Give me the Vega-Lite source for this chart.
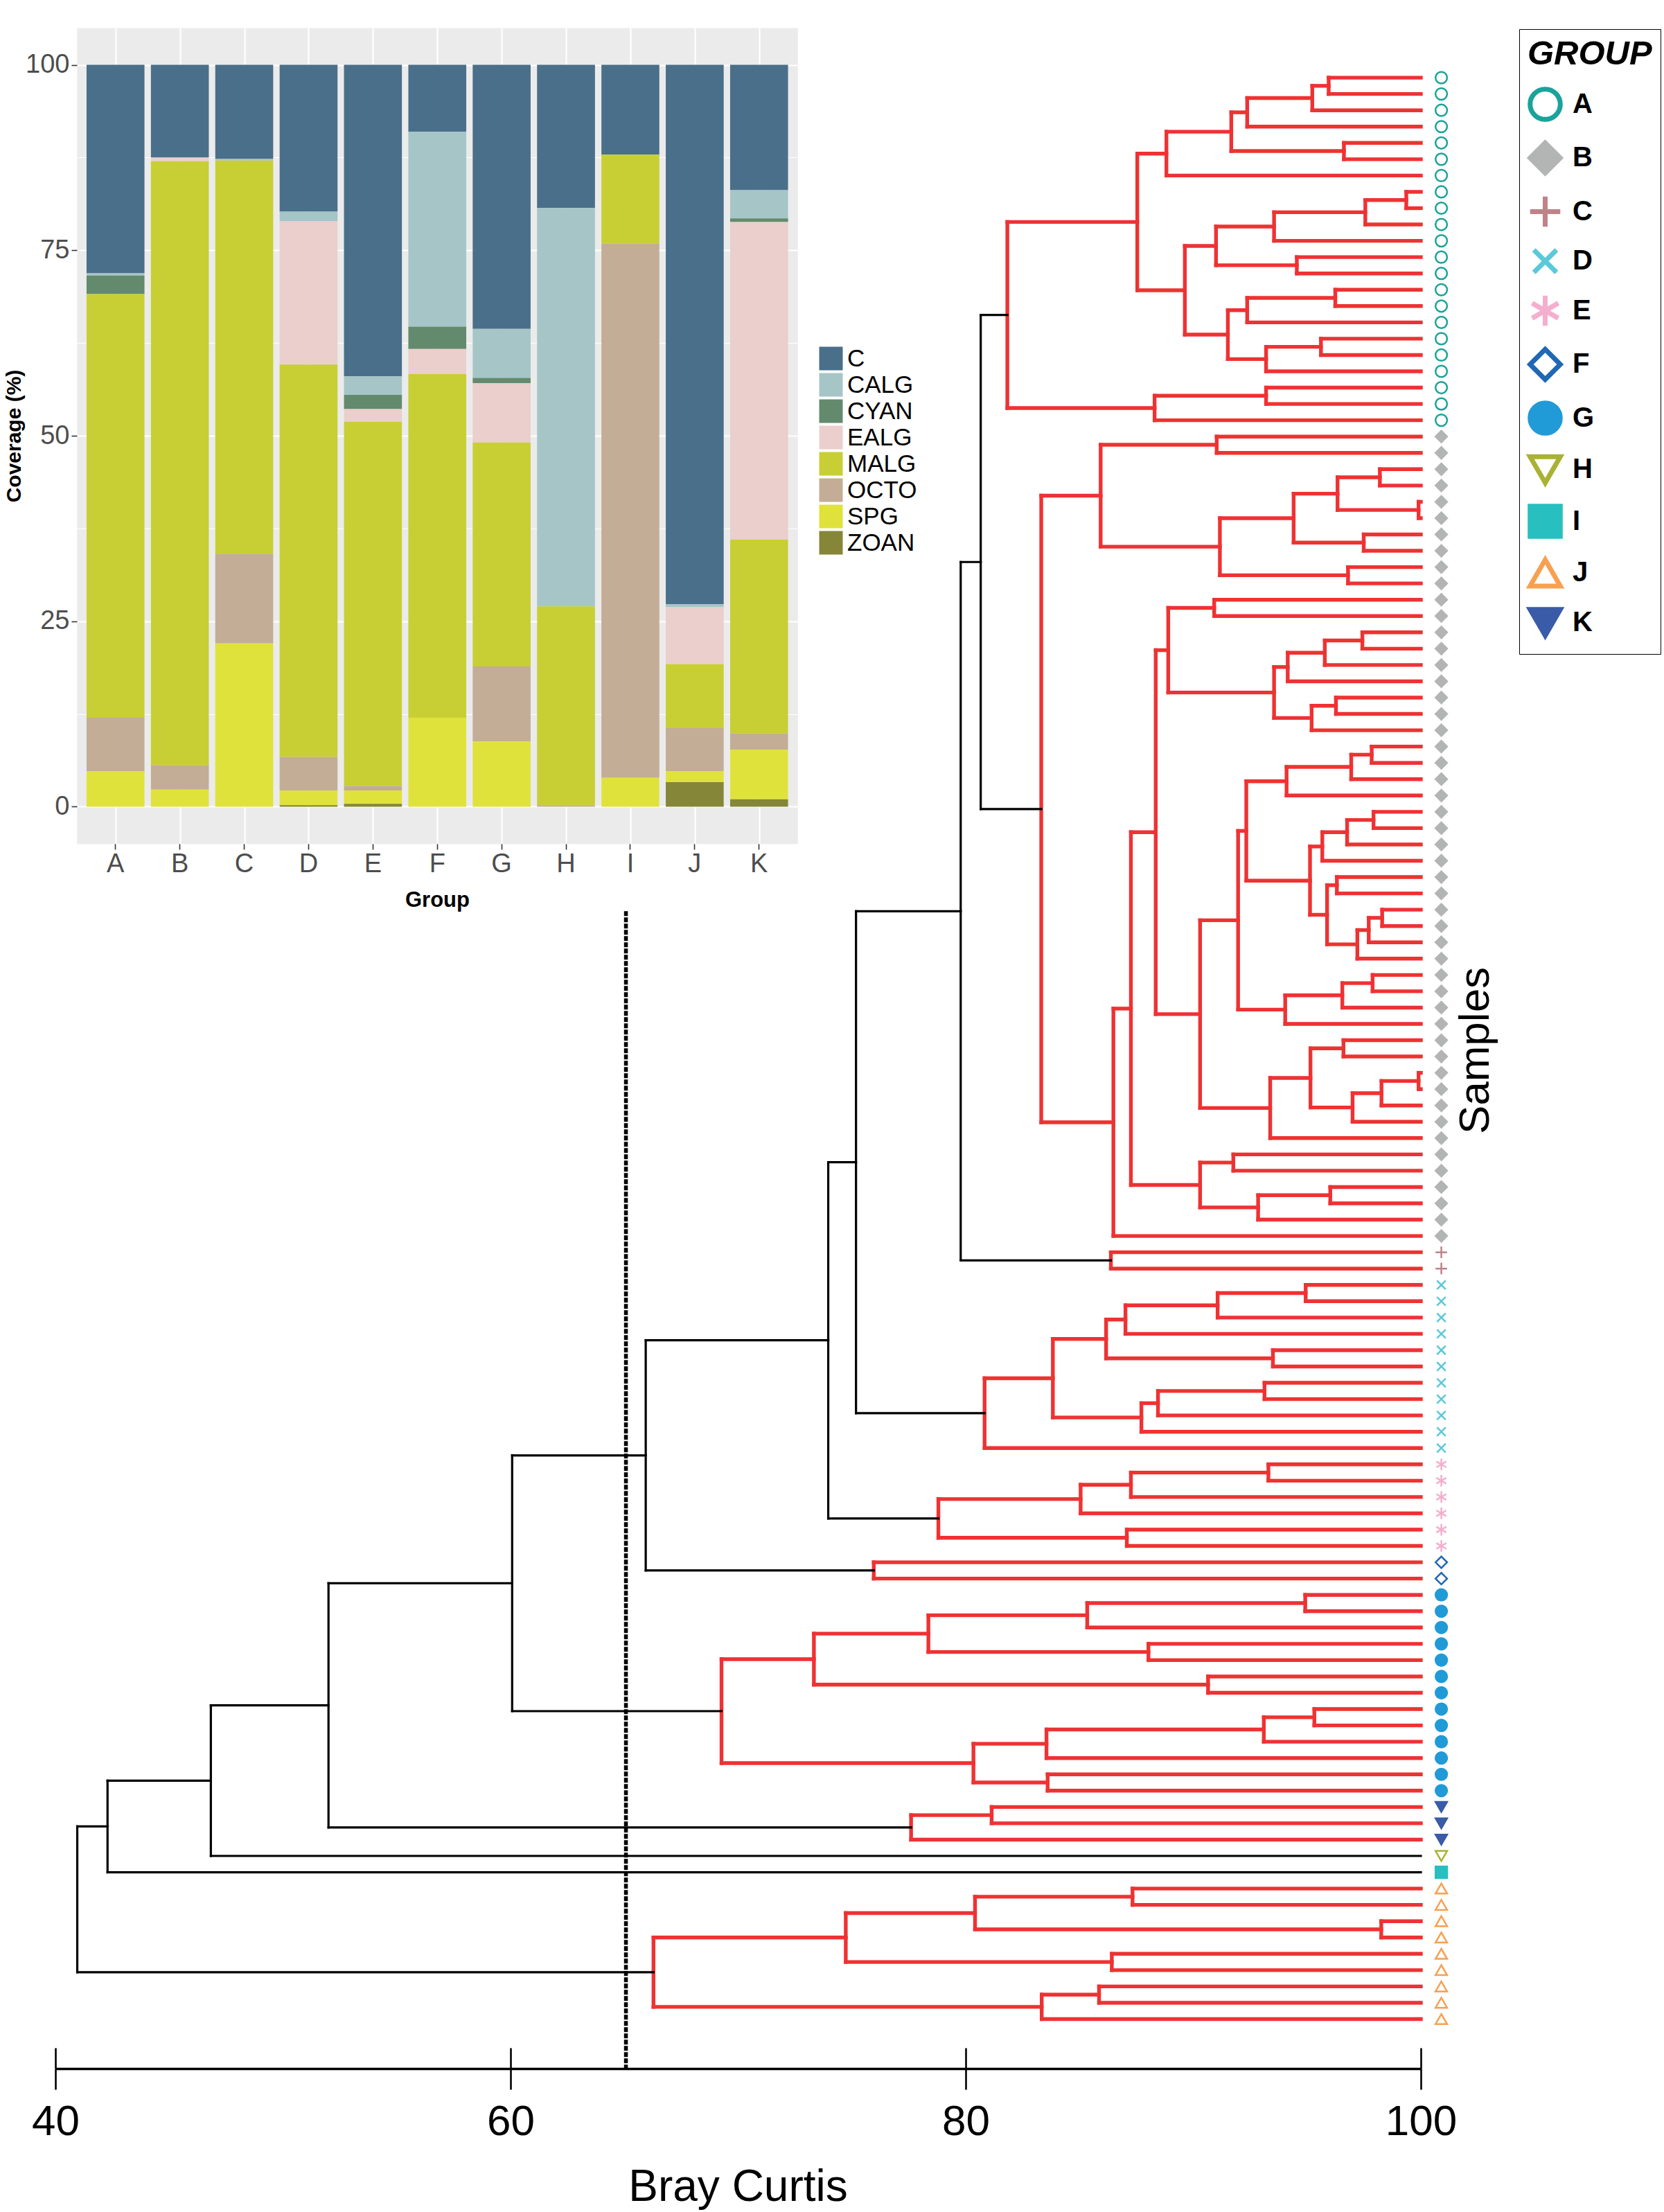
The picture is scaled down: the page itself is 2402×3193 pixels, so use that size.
{
"$schema": "https://vega.github.io/schema/vega-lite/v6.json",
"width": 2402, "height": 3193,
"autosize": {"type": "none"}, "padding": 0, "background": "white",
"config": {"view": {"stroke": null}, "axis": {"grid": false}, "font": "Liberation Sans"},
"datasets": {
"bars": [
{"g":"A","cat":"C","v":28.1},{"g":"A","cat":"CALG","v":0.3},{"g":"A","cat":"CYAN","v":2.5},{"g":"A","cat":"MALG","v":57.1},{"g":"A","cat":"OCTO","v":7.2},{"g":"A","cat":"SPG","v":4.8},
{"g":"B","cat":"C","v":12.5},{"g":"B","cat":"EALG","v":0.5},{"g":"B","cat":"MALG","v":81.4},{"g":"B","cat":"OCTO","v":3.3},{"g":"B","cat":"SPG","v":2.3},
{"g":"C","cat":"C","v":12.7},{"g":"C","cat":"CALG","v":0.2},{"g":"C","cat":"MALG","v":53.0},{"g":"C","cat":"OCTO","v":12.1},{"g":"C","cat":"SPG","v":22.0},
{"g":"D","cat":"C","v":19.8},{"g":"D","cat":"CALG","v":1.3},{"g":"D","cat":"EALG","v":19.3},{"g":"D","cat":"MALG","v":52.9},{"g":"D","cat":"OCTO","v":4.5},{"g":"D","cat":"SPG","v":2.0},{"g":"D","cat":"ZOAN","v":0.2},
{"g":"E","cat":"C","v":42.0},{"g":"E","cat":"CALG","v":2.5},{"g":"E","cat":"CYAN","v":1.9},{"g":"E","cat":"EALG","v":1.7},{"g":"E","cat":"MALG","v":49.1},{"g":"E","cat":"OCTO","v":0.6},{"g":"E","cat":"SPG","v":1.8},{"g":"E","cat":"ZOAN","v":0.4},
{"g":"F","cat":"C","v":9.0},{"g":"F","cat":"CALG","v":26.3},{"g":"F","cat":"CYAN","v":3.0},{"g":"F","cat":"EALG","v":3.4},{"g":"F","cat":"MALG","v":46.3},{"g":"F","cat":"SPG","v":12.0},
{"g":"G","cat":"C","v":35.6},{"g":"G","cat":"CALG","v":6.6},{"g":"G","cat":"CYAN","v":0.7},{"g":"G","cat":"EALG","v":8.0},{"g":"G","cat":"MALG","v":30.2},{"g":"G","cat":"OCTO","v":10.1},{"g":"G","cat":"SPG","v":8.8},
{"g":"H","cat":"C","v":19.3},{"g":"H","cat":"CALG","v":53.7},{"g":"H","cat":"MALG","v":26.8},{"g":"H","cat":"OCTO","v":0.2},
{"g":"I","cat":"C","v":12.1},{"g":"I","cat":"MALG","v":12.0},{"g":"I","cat":"OCTO","v":72.0},{"g":"I","cat":"SPG","v":3.9},
{"g":"J","cat":"C","v":72.7},{"g":"J","cat":"CALG","v":0.4},{"g":"J","cat":"EALG","v":7.7},{"g":"J","cat":"MALG","v":8.6},{"g":"J","cat":"OCTO","v":5.8},{"g":"J","cat":"SPG","v":1.5},{"g":"J","cat":"ZOAN","v":3.3},
{"g":"K","cat":"C","v":16.9},{"g":"K","cat":"CALG","v":3.8},{"g":"K","cat":"CYAN","v":0.5},{"g":"K","cat":"EALG","v":42.8},{"g":"K","cat":"MALG","v":26.1},{"g":"K","cat":"OCTO","v":2.2},{"g":"K","cat":"SPG","v":6.7},{"g":"K","cat":"ZOAN","v":1.0}
],
"nodes": [
{"h":95.95,"a":100,"ya":0,"b":100,"yb":1},
{"h":95.23,"a":95.95,"ya":0.5,"b":100,"yb":2},
{"h":92.37,"a":95.23,"ya":1.25,"b":100,"yb":3},
{"h":96.62,"a":100,"ya":4,"b":100,"yb":5},
{"h":91.67,"a":92.37,"ya":2.125,"b":96.62,"yb":4.5},
{"h":88.82,"a":91.67,"ya":3.3125,"b":100,"yb":6},
{"h":99.36,"a":100,"ya":7,"b":100,"yb":8},
{"h":97.56,"a":99.36,"ya":7.5,"b":100,"yb":9},
{"h":93.55,"a":97.56,"ya":8.25,"b":100,"yb":10},
{"h":94.55,"a":100,"ya":11,"b":100,"yb":12},
{"h":91.0,"a":93.55,"ya":9.125,"b":94.55,"yb":11.5},
{"h":96.24,"a":100,"ya":13,"b":100,"yb":14},
{"h":92.37,"a":96.24,"ya":13.5,"b":100,"yb":15},
{"h":95.61,"a":100,"ya":16,"b":100,"yb":17},
{"h":93.2,"a":95.61,"ya":16.5,"b":100,"yb":18},
{"h":91.52,"a":92.37,"ya":14.25,"b":93.2,"yb":17.25},
{"h":89.63,"a":91.0,"ya":10.3125,"b":91.52,"yb":15.75},
{"h":87.54,"a":88.82,"ya":4.6563,"b":89.63,"yb":13.0313},
{"h":93.2,"a":100,"ya":19,"b":100,"yb":20},
{"h":88.3,"a":93.2,"ya":19.5,"b":100,"yb":21},
{"h":81.83,"a":87.54,"ya":8.8438,"b":88.3,"yb":20.25},
{"h":91.03,"a":100,"ya":22,"b":100,"yb":23},
{"h":98.2,"a":100,"ya":24,"b":100,"yb":25},
{"h":99.9,"a":100,"ya":26,"b":100,"yb":27},
{"h":96.34,"a":98.2,"ya":24.5,"b":99.9,"yb":26.5},
{"h":97.49,"a":100,"ya":28,"b":100,"yb":29},
{"h":94.41,"a":96.34,"ya":25.5,"b":97.49,"yb":28.5},
{"h":96.8,"a":100,"ya":30,"b":100,"yb":31},
{"h":91.17,"a":94.41,"ya":27,"b":96.8,"yb":30.5},
{"h":85.93,"a":91.03,"ya":22.5,"b":91.17,"yb":28.75},
{"h":90.92,"a":100,"ya":32,"b":100,"yb":33},
{"h":97.43,"a":100,"ya":34,"b":100,"yb":35},
{"h":95.78,"a":97.43,"ya":34.5,"b":100,"yb":36},
{"h":94.15,"a":95.78,"ya":35.25,"b":100,"yb":37},
{"h":96.27,"a":100,"ya":38,"b":100,"yb":39},
{"h":95.2,"a":96.27,"ya":38.5,"b":100,"yb":40},
{"h":93.55,"a":94.15,"ya":36.125,"b":95.2,"yb":39.25},
{"h":88.9,"a":90.92,"ya":32.5,"b":93.55,"yb":37.6875},
{"h":97.84,"a":100,"ya":41,"b":100,"yb":42},
{"h":96.94,"a":97.84,"ya":41.5,"b":100,"yb":43},
{"h":94.1,"a":96.94,"ya":42.25,"b":100,"yb":44},
{"h":97.92,"a":100,"ya":45,"b":100,"yb":46},
{"h":96.76,"a":97.92,"ya":45.5,"b":100,"yb":47},
{"h":95.67,"a":96.76,"ya":46.25,"b":100,"yb":48},
{"h":96.31,"a":100,"ya":49,"b":100,"yb":50},
{"h":98.3,"a":100,"ya":51,"b":100,"yb":52},
{"h":97.71,"a":98.3,"ya":51.5,"b":100,"yb":53},
{"h":97.21,"a":97.71,"ya":52.25,"b":100,"yb":54},
{"h":95.88,"a":96.31,"ya":49.5,"b":97.21,"yb":53.125},
{"h":95.13,"a":95.67,"ya":47.125,"b":95.88,"yb":51.3125},
{"h":92.33,"a":94.1,"ya":43.125,"b":95.13,"yb":49.2188},
{"h":97.88,"a":100,"ya":55,"b":100,"yb":56},
{"h":96.55,"a":97.88,"ya":55.5,"b":100,"yb":57},
{"h":94.04,"a":96.55,"ya":56.25,"b":100,"yb":58},
{"h":91.97,"a":92.33,"ya":46.1719,"b":94.04,"yb":57.125},
{"h":96.6,"a":100,"ya":59,"b":100,"yb":60},
{"h":99.9,"a":100,"ya":61,"b":100,"yb":62},
{"h":98.27,"a":99.9,"ya":61.5,"b":100,"yb":63},
{"h":97.0,"a":98.27,"ya":62.25,"b":100,"yb":64},
{"h":95.15,"a":96.6,"ya":59.5,"b":97.0,"yb":63.125},
{"h":93.38,"a":95.15,"ya":61.3125,"b":100,"yb":65},
{"h":90.3,"a":91.97,"ya":51.6484,"b":93.38,"yb":63.1563},
{"h":88.35,"a":88.9,"ya":35.0938,"b":90.3,"yb":57.4023},
{"h":91.76,"a":100,"ya":66,"b":100,"yb":67},
{"h":96.02,"a":100,"ya":68,"b":100,"yb":69},
{"h":92.85,"a":96.02,"ya":68.5,"b":100,"yb":70},
{"h":90.3,"a":91.76,"ya":66.5,"b":92.85,"yb":69.25},
{"h":87.26,"a":88.35,"ya":46.248,"b":90.3,"yb":67.875},
{"h":86.49,"a":87.26,"ya":57.0615,"b":100,"yb":71},
{"h":83.32,"a":85.93,"ya":25.625,"b":86.49,"yb":64.0308},
{"h":80.66,"a":81.83,"ya":14.5469,"b":83.32,"yb":44.8279,"k":"b"},
{"h":86.38,"a":100,"ya":72,"b":100,"yb":73},
{"h":79.78,"a":80.66,"ya":29.6874,"b":86.38,"yb":72.5,"k":"b"},
{"h":94.94,"a":100,"ya":74,"b":100,"yb":75},
{"h":91.07,"a":94.94,"ya":74.5,"b":100,"yb":76},
{"h":87.02,"a":91.07,"ya":75.25,"b":100,"yb":77},
{"h":93.5,"a":100,"ya":78,"b":100,"yb":79},
{"h":86.17,"a":87.02,"ya":76.125,"b":93.5,"yb":78.5},
{"h":93.13,"a":100,"ya":80,"b":100,"yb":81},
{"h":88.45,"a":93.13,"ya":80.5,"b":100,"yb":82},
{"h":87.72,"a":88.45,"ya":81.25,"b":100,"yb":83},
{"h":83.83,"a":86.17,"ya":77.3125,"b":87.72,"yb":82.125},
{"h":80.83,"a":83.83,"ya":79.7188,"b":100,"yb":84},
{"h":75.18,"a":79.78,"ya":51.0937,"b":80.83,"yb":81.8594,"k":"b"},
{"h":93.3,"a":100,"ya":85,"b":100,"yb":86},
{"h":87.26,"a":93.3,"ya":85.5,"b":100,"yb":87},
{"h":85.05,"a":87.26,"ya":86.25,"b":100,"yb":88},
{"h":87.08,"a":100,"ya":89,"b":100,"yb":90},
{"h":78.8,"a":85.05,"ya":87.125,"b":87.08,"yb":89.5},
{"h":73.96,"a":75.18,"ya":66.4765,"b":78.8,"yb":88.3125,"k":"b"},
{"h":75.96,"a":100,"ya":91,"b":100,"yb":92},
{"h":65.94,"a":73.96,"ya":77.3945,"b":75.96,"yb":91.5,"k":"b"},
{"h":94.92,"a":100,"ya":93,"b":100,"yb":94},
{"h":85.34,"a":94.92,"ya":93.5,"b":100,"yb":95},
{"h":88.03,"a":100,"ya":96,"b":100,"yb":97},
{"h":78.36,"a":85.34,"ya":94.25,"b":88.03,"yb":96.5},
{"h":90.65,"a":100,"ya":98,"b":100,"yb":99},
{"h":73.33,"a":78.36,"ya":95.375,"b":90.65,"yb":98.5},
{"h":95.32,"a":100,"ya":100,"b":100,"yb":101},
{"h":93.1,"a":95.32,"ya":100.5,"b":100,"yb":102},
{"h":83.55,"a":93.1,"ya":101.25,"b":100,"yb":103},
{"h":83.6,"a":100,"ya":104,"b":100,"yb":105},
{"h":80.34,"a":83.55,"ya":102.125,"b":83.6,"yb":104.5},
{"h":69.27,"a":73.33,"ya":96.9375,"b":80.34,"yb":103.3125},
{"h":60.07,"a":65.94,"ya":84.4473,"b":69.27,"yb":100.125,"k":"b"},
{"h":81.14,"a":100,"ya":106,"b":100,"yb":107},
{"h":77.6,"a":81.14,"ya":106.5,"b":100,"yb":108},
{"h":52.0,"a":60.07,"ya":92.2861,"b":77.6,"yb":107.25,"k":"b"},
{"h":46.83,"a":52.0,"ya":99.7681,"b":100,"yb":109,"k":"b"},
{"h":42.29,"a":46.83,"ya":104.384,"b":100,"yb":110,"k":"b"},
{"h":87.33,"a":100,"ya":111,"b":100,"yb":112},
{"h":98.26,"a":100,"ya":113,"b":100,"yb":114},
{"h":80.41,"a":87.33,"ya":111.5,"b":98.26,"yb":113.5},
{"h":86.42,"a":100,"ya":115,"b":100,"yb":116},
{"h":74.73,"a":80.41,"ya":112.5,"b":86.42,"yb":115.5},
{"h":85.86,"a":100,"ya":117,"b":100,"yb":118},
{"h":83.34,"a":85.86,"ya":117.5,"b":100,"yb":119},
{"h":66.28,"a":74.73,"ya":114,"b":83.34,"yb":118.25},
{"h":40.96,"a":42.29,"ya":107.192,"b":66.28,"yb":116.125,"k":"b"}
],
"leaves": [
{"i":0,"g":"A"},{"i":1,"g":"A"},{"i":2,"g":"A"},{"i":3,"g":"A"},{"i":4,"g":"A"},{"i":5,"g":"A"},{"i":6,"g":"A"},{"i":7,"g":"A"},{"i":8,"g":"A"},{"i":9,"g":"A"},{"i":10,"g":"A"},{"i":11,"g":"A"},{"i":12,"g":"A"},{"i":13,"g":"A"},{"i":14,"g":"A"},{"i":15,"g":"A"},{"i":16,"g":"A"},{"i":17,"g":"A"},{"i":18,"g":"A"},{"i":19,"g":"A"},{"i":20,"g":"A"},{"i":21,"g":"A"},
{"i":22,"g":"B"},{"i":23,"g":"B"},{"i":24,"g":"B"},{"i":25,"g":"B"},{"i":26,"g":"B"},{"i":27,"g":"B"},{"i":28,"g":"B"},{"i":29,"g":"B"},{"i":30,"g":"B"},{"i":31,"g":"B"},{"i":32,"g":"B"},{"i":33,"g":"B"},{"i":34,"g":"B"},{"i":35,"g":"B"},{"i":36,"g":"B"},{"i":37,"g":"B"},{"i":38,"g":"B"},{"i":39,"g":"B"},{"i":40,"g":"B"},{"i":41,"g":"B"},{"i":42,"g":"B"},{"i":43,"g":"B"},{"i":44,"g":"B"},{"i":45,"g":"B"},{"i":46,"g":"B"},{"i":47,"g":"B"},{"i":48,"g":"B"},{"i":49,"g":"B"},{"i":50,"g":"B"},{"i":51,"g":"B"},{"i":52,"g":"B"},{"i":53,"g":"B"},{"i":54,"g":"B"},{"i":55,"g":"B"},{"i":56,"g":"B"},{"i":57,"g":"B"},{"i":58,"g":"B"},{"i":59,"g":"B"},{"i":60,"g":"B"},{"i":61,"g":"B"},{"i":62,"g":"B"},{"i":63,"g":"B"},{"i":64,"g":"B"},{"i":65,"g":"B"},{"i":66,"g":"B"},{"i":67,"g":"B"},{"i":68,"g":"B"},{"i":69,"g":"B"},{"i":70,"g":"B"},{"i":71,"g":"B"},
{"i":72,"g":"C"},{"i":73,"g":"C"},
{"i":74,"g":"D"},{"i":75,"g":"D"},{"i":76,"g":"D"},{"i":77,"g":"D"},{"i":78,"g":"D"},{"i":79,"g":"D"},{"i":80,"g":"D"},{"i":81,"g":"D"},{"i":82,"g":"D"},{"i":83,"g":"D"},{"i":84,"g":"D"},
{"i":85,"g":"E"},{"i":86,"g":"E"},{"i":87,"g":"E"},{"i":88,"g":"E"},{"i":89,"g":"E"},{"i":90,"g":"E"},
{"i":91,"g":"F"},{"i":92,"g":"F"},
{"i":93,"g":"G"},{"i":94,"g":"G"},{"i":95,"g":"G"},{"i":96,"g":"G"},{"i":97,"g":"G"},{"i":98,"g":"G"},{"i":99,"g":"G"},{"i":100,"g":"G"},{"i":101,"g":"G"},{"i":102,"g":"G"},{"i":103,"g":"G"},{"i":104,"g":"G"},{"i":105,"g":"G"},
{"i":106,"g":"K"},{"i":107,"g":"K"},{"i":108,"g":"K"},
{"i":109,"g":"H"},{"i":110,"g":"I"},
{"i":111,"g":"J"},{"i":112,"g":"J"},{"i":113,"g":"J"},{"i":114,"g":"J"},{"i":115,"g":"J"},{"i":116,"g":"J"},{"i":117,"g":"J"},{"i":118,"g":"J"},{"i":119,"g":"J"}
]
},
"resolve": {"scale": {"x": "independent", "y": "independent", "color": "independent"}, "axis": {"x": "independent", "y": "independent"}},
"layer": [
{
 "data": {"values": [{"panel": "bg"}]},
 "mark": {"type": "point", "opacity": 0},
 "encoding": {
  "x": {"datum": 0.5, "type": "quantitative", "scale": {"domain": [0, 1], "range": [111, 1151.5], "nice": false, "zero": false},
        "axis": {"orient": "bottom", "offset": -1975, "grid": true, "values": [0.5], "gridWidth": 1040.5, "gridColor": "#EBEBEB", "gridCap": "butt", "ticks": false, "labels": false, "domain": false, "title": null}},
  "y": {"datum": 0.5, "type": "quantitative", "scale": {"domain": [0, 1], "range": [3153, 1975], "nice": false, "zero": false}, "axis": null}
 }
},
{
 "data": {"values": [{"panel": "grid"}]},
 "mark": {"type": "point", "opacity": 0},
 "encoding": {
  "x": {"datum": 0.5, "type": "quantitative", "scale": {"domain": [0, 1], "range": [111, 1151.5], "nice": false, "zero": false},
        "axis": {"orient": "bottom", "offset": -1975, "grid": true, "values": [0.05357, 0.14286, 0.23214, 0.32143, 0.41071, 0.5, 0.58929, 0.67857, 0.76786, 0.85714, 0.94643], "gridWidth": 2.2, "gridColor": "white", "ticks": false, "labels": false, "domain": false, "title": null}},
  "y": {"datum": 0.5, "type": "quantitative", "scale": {"domain": [0, 1], "range": [3153, 1975], "nice": false, "zero": false}, "axis": null}
 }
},
{
 "data": {"name": "bars"},
 "mark": {"type": "bar"},
 "encoding": {
  "x": {"field": "g", "type": "nominal", "scale": {"domain": ["A","B","C","D","E","F","G","H","I","J","K"], "range": [111, 1151.5], "paddingInner": 0.1, "paddingOuter": 0.15},
        "axis": {"orient": "bottom", "offset": -1975, "grid": false, "domain": false, "tickSize": 8, "tickColor": "#333333", "tickWidth": 1.6, "labelAngle": 0, "labelFont": "Liberation Sans", "labelFontSize": 38, "labelColor": "#4D4D4D", "labelPadding": 2,
                 "title": "Group", "titleFont": "Liberation Sans", "titleFontSize": 31, "titleFontWeight": "bold", "titleColor": "black", "titleX": 631, "titleY": 90, "titleBaseline": "alphabetic", "titleAlign": "center"}},
  "y": {"field": "v", "type": "quantitative", "stack": "zero", "scale": {"domain": [-5, 105], "range": [1218, 40], "nice": false, "zero": false},
        "axis": {"orient": "left", "offset": -111, "grid": true, "values": [0, 12.5, 25, 37.5, 50, 62.5, 75, 87.5, 100], "gridColor": "white",
                 "gridWidth": {"condition": {"test": "datum.value % 25 !== 0", "value": 1.1}, "value": 2.2},
                 "tickOpacity": {"condition": {"test": "datum.value % 25 !== 0", "value": 0}, "value": 1},
                 "labelExpr": "datum.value % 25 === 0 ? datum.label : ''",
                 "domain": false, "tickSize": 8, "tickColor": "#333333", "tickWidth": 1.6, "labelFont": "Liberation Sans", "labelFontSize": 38, "labelColor": "#4D4D4D", "labelPadding": 3, "labelOverlap": false,
                 "title": "Coverage (%)", "titleFont": "Liberation Sans", "titleFontSize": 30, "titleFontWeight": "bold", "titleColor": "black", "titleAngle": 270, "titleX": -82, "titleY": 629, "titleBaseline": "alphabetic", "titleAlign": "center"}},
  "color": {"field": "cat", "type": "nominal",
            "scale": {"domain": ["C","CALG","CYAN","EALG","MALG","OCTO","SPG","ZOAN"], "range": ["#4A6F8A","#A6C5C7","#638A6C","#EACFCC","#C7CF34","#C3AD96","#E0E23C","#858638"]},
            "legend": {"title": null, "orient": "none", "legendX": 1182, "legendY": 500, "padding": 0, "symbolType": "square", "symbolSize": 1156, "symbolStrokeWidth": 0, "labelFont": "Liberation Sans", "labelFontSize": 35, "labelColor": "black", "labelOffset": 6, "rowPadding": 2}},
  "order": {"field": "cat", "sort": "descending"}
 }
},
{
 "data": {"name": "nodes"},
 "layer": [
  {
   "mark": {"type": "rule", "strokeCap": "square"},
   "encoding": {
    "x": {"field": "h", "type": "quantitative", "scale": {"domain": [40, 100], "range": [80, 2051], "nice": false, "zero": false},
          "axis": {"orient": "bottom", "offset": -207, "values": [40, 60, 80, 100], "domainColor": "black", "domainWidth": 3.3, "tickColor": "black", "tickWidth": 2.6, "tickSize": 30,
                   "labelFont": "Liberation Sans", "labelFontSize": 62, "labelColor": "black", "labelPadding": 16, "labelFlush": false, "labelOverlap": false, "labelBound": false,
                   "title": "Bray Curtis", "titleFont": "Liberation Sans", "titleFontSize": 64, "titleFontWeight": "normal", "titleColor": "black", "titleX": 1065, "titleY": 190, "titleBaseline": "alphabetic", "titleAlign": "center"}},
    "y": {"field": "ya", "type": "quantitative", "scale": {"domain": [0, 119], "range": [112.1, 2914.5], "nice": false, "zero": false},
          "axis": {"orient": "right", "domain": false, "ticks": false, "labels": false, "title": "Samples", "titleFont": "Liberation Sans", "titleFontSize": 62, "titleFontWeight": "normal", "titleColor": "black", "titleAngle": 270, "titleX": -254, "titleY": 1516, "titleAlign": "center", "titleBaseline": "alphabetic"}},
    "y2": {"field": "yb"},
    "color": {"condition": {"test": "datum.k === 'b'", "value": "#000000"}, "value": "#EE3233"},
    "strokeWidth": {"condition": {"test": "datum.k === 'b'", "value": 3.2}, "value": 5.4}
   }
  },
  {
   "mark": {"type": "rule", "strokeCap": "square"},
   "encoding": {
    "x": {"field": "a", "type": "quantitative"},
    "x2": {"field": "h"},
    "y": {"field": "ya", "type": "quantitative"},
    "color": {"condition": {"test": "datum.k === 'b'", "value": "#000000"}, "value": "#EE3233"},
    "strokeWidth": {"condition": {"test": "datum.k === 'b'", "value": 3.2}, "value": 5.4}
   }
  },
  {
   "mark": {"type": "rule", "strokeCap": "square"},
   "encoding": {
    "x": {"field": "b", "type": "quantitative"},
    "x2": {"field": "h"},
    "y": {"field": "yb", "type": "quantitative"},
    "color": {"condition": {"test": "datum.k === 'b'", "value": "#000000"}, "value": "#EE3233"},
    "strokeWidth": {"condition": {"test": "datum.k === 'b'", "value": 3.2}, "value": 5.4}
   }
  },
  {
   "data": {"name": "leaves"},
   "mark": {"type": "point", "size": 280, "strokeWidth": 2.5, "opacity": 1},
   "encoding": {
    "x": {"datum": 100.9, "type": "quantitative"},
    "y": {"field": "i", "type": "quantitative"},
    "shape": {"field": "g", "type": "nominal",
              "scale": {"domain": ["A","B","C","D","E","F","G","H","I","J","K"], "range": ["circle","diamond","M-1,0L1,0M0,-1L0,1","M-0.75,-0.75L0.75,0.75M-0.75,0.75L0.75,-0.75","M0,-1L0,1M-0.866,-0.5L0.866,0.5M-0.866,0.5L0.866,-0.5","diamond","circle","triangle-down","square","triangle-up","triangle-down"]},
              "legend": {"title": "GROUP", "orient": "none", "legendX": 2193, "legendY": 42, "padding": 12, "strokeColor": "black", "titleFont": "Liberation Sans", "titleFontSize": 49, "titleFontWeight": "bold", "titleFontStyle": "italic", "titleColor": "black", "titlePadding": 22, "labelFont": "Liberation Sans", "labelFontSize": 40, "labelFontWeight": "bold", "labelColor": "black", "symbolSize": 1900, "symbolStrokeWidth": 7, "rowPadding": 4.5, "labelOffset": 14,
                         "encode": {"legend": {"update": {"strokeWidth": {"value": 3}}}}}},
    "fill": {"field": "g", "type": "nominal",
             "scale": {"domain": ["A","B","C","D","E","F","G","H","I","J","K"], "range": ["transparent","#B3B5B5","transparent","transparent","transparent","transparent","#219AD8","transparent","#27BFBF","transparent","#3A5BA8"]},
             "legend": {"title": "GROUP", "orient": "none", "legendX": 2193, "legendY": 42, "padding": 12, "strokeColor": "black", "titleFont": "Liberation Sans", "titleFontSize": 49, "titleFontWeight": "bold", "titleFontStyle": "italic", "titleColor": "black", "titlePadding": 22, "labelFont": "Liberation Sans", "labelFontSize": 40, "labelFontWeight": "bold", "labelColor": "black", "symbolSize": 1900, "symbolStrokeWidth": 7, "rowPadding": 4.5, "labelOffset": 14,
                        "encode": {"legend": {"update": {"strokeWidth": {"value": 3}}}}}},
    "stroke": {"field": "g", "type": "nominal",
               "scale": {"domain": ["A","B","C","D","E","F","G","H","I","J","K"], "range": ["#1AA39A","#B3B5B5","#BF8289","#5BC9D9","#F4AFCF","#2068B4","#219AD8","#A9B234","#27BFBF","#F8A051","#3A5BA8"]},
               "legend": {"title": "GROUP", "orient": "none", "legendX": 2193, "legendY": 42, "padding": 12, "strokeColor": "black", "titleFont": "Liberation Sans", "titleFontSize": 49, "titleFontWeight": "bold", "titleFontStyle": "italic", "titleColor": "black", "titlePadding": 22, "labelFont": "Liberation Sans", "labelFontSize": 40, "labelFontWeight": "bold", "labelColor": "black", "symbolSize": 1900, "symbolStrokeWidth": 7, "rowPadding": 4.5, "labelOffset": 14,
                          "encode": {"legend": {"update": {"strokeWidth": {"value": 3}}}}}}
   }
  }
 ]
},
{
 "data": {"values": [{"cut": 65.07, "top": 51.09, "bot": 122.03}]},
 "mark": {"type": "rule", "color": "black", "strokeWidth": 5.5, "strokeDash": [7, 2]},
 "encoding": {
  "x": {"field": "cut", "type": "quantitative", "scale": {"domain": [40, 100], "range": [80, 2051], "nice": false, "zero": false},
        "axis": {"orient": "top", "offset": -2986, "values": [40, 60, 80, 100], "tickSize": 30, "tickWidth": 2.6, "tickColor": "black", "labels": false, "domain": false, "title": null}},
  "y": {"field": "top", "type": "quantitative", "scale": {"domain": [0, 119], "range": [112.1, 2914.5], "nice": false, "zero": false}, "axis": null},
  "y2": {"field": "bot"}
 }
}
]
}
